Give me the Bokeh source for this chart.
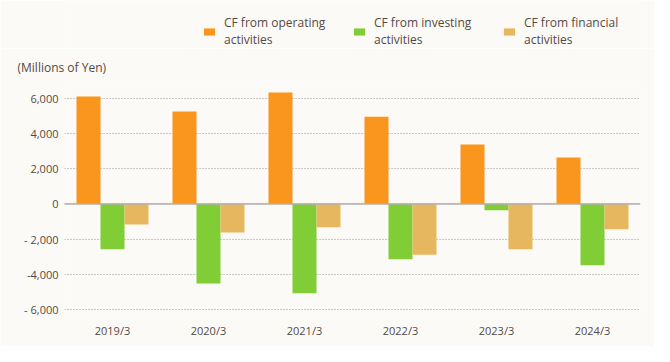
from bokeh.plotting import figure
from bokeh.models import ColumnDataSource, FixedTicker, Span, Legend, LegendItem, Range1d
from bokeh.layouts import column
from bokeh.transform import dodge
from bokeh.embed import file_html
from bokeh.resources import INLINE

categories = ["2019/3", "2020/3", "2021/3", "2022/3", "2023/3", "2024/3"]
operating = [6110, 5260, 6340, 4970, 3380, 2640]
investing = [-2590, -4540, -5090, -3160, -360, -3500]
financial = [-1180, -1630, -1330, -2890, -2590, -1450]
series_names = ["CF from operating\nactivities", "CF from investing\nactivities", "CF from financial\nactivities"]
y_ticks = [-6000, -4000, -2000, 0, 2000, 4000, 6000]
y_tick_labels = ["- 6,000", "-4,000", "- 2,000", "0", "2,000", "4,000", "6,000"]
unit_label = "(Millions of Yen)"

colors = ["#fa961e", "#80cd35", "#e6b75e"]
FONT = "Open Sans"
TXT = "#544a45"
BG = "#fcfaf6"
W = 654
HEAD_H = 48
TOTAL_H = 346

src = ColumnDataSource(dict(cat=categories, op=operating, inv=investing, fin=financial))
cols = ["op", "inv", "fin"]
offsets = [-0.25, 0.0, 0.25]

# ---- main chart ----
p = figure(x_range=categories, y_range=(-6300, 6800), width=W, height=TOTAL_H - HEAD_H,
           output_backend="svg", toolbar_location=None,
           min_border_left=64, min_border_right=14, min_border_top=36, min_border_bottom=32)
p.background_fill_color = BG
p.border_fill_color = BG
p.outline_line_color = None

for c, off, col in zip(cols, offsets, colors):
    p.vbar(x=dodge("cat", off, range=p.x_range), top=c, bottom=0, width=0.25,
           source=src, color=col, line_color=None)

p.yaxis.ticker = FixedTicker(ticks=y_ticks)
p.yaxis.major_label_overrides = {t: l for t, l in zip(y_ticks, y_tick_labels)}
for ax in (p.xaxis[0], p.yaxis[0]):
    ax.axis_line_color = None
    ax.major_tick_line_color = None
    ax.minor_tick_line_color = None
    ax.major_tick_out = 0
    ax.major_tick_in = 0
    ax.major_label_text_font = FONT
    ax.major_label_text_color = TXT
    ax.major_label_text_font_size = "11px"
p.yaxis.major_label_standoff = 6
p.xaxis.major_label_standoff = 8

p.xgrid.grid_line_color = None
p.ygrid.grid_line_color = "#9b9590"
p.ygrid.grid_line_dash = "1 2"
p.ygrid.grid_line_width = 1

p.add_layout(Span(location=0, dimension="width", line_color="#b5aea8", line_width=1.5))

p.title.text = unit_label
p.title.text_font = FONT
p.title.text_font_size = "12px"
p.title.text_font_style = "normal"
p.title.text_color = TXT
p.title.align = "left"
p.title.offset = -47
p.title.standoff = 17

# ---- header holding the legend (same bars, drawn out of its view) ----
head = figure(width=W, height=HEAD_H, x_range=p.x_range, y_range=Range1d(20000, 21000),
              x_axis_type=None, y_axis_type=None, output_backend="svg", toolbar_location=None,
              min_border=0, min_border_left=64, min_border_right=14)
head.background_fill_color = BG
head.border_fill_color = BG
head.outline_line_color = None
head.grid.grid_line_color = None
legend_rs = [head.vbar(x=dodge("cat", off, range=p.x_range), top=c, bottom=0, width=0.25,
                       source=src, color=col, line_color=None)
             for c, off, col in zip(cols, offsets, colors)]
legend = Legend(items=[LegendItem(label=n, renderers=[r]) for n, r in zip(series_names, legend_rs)],
                location=(138, 0), orientation="horizontal",
                glyph_width=14, glyph_height=9, spacing=18, padding=0, margin=0,
                label_width=110,
                label_text_font=FONT, label_text_font_size="12px", label_text_color=TXT,
                label_standoff=8, background_fill_alpha=0, border_line_color=None)
head.add_layout(legend, "center")

layout = column(head, p, spacing=0)
open("out.html", "w").write(file_html(layout, INLINE))
